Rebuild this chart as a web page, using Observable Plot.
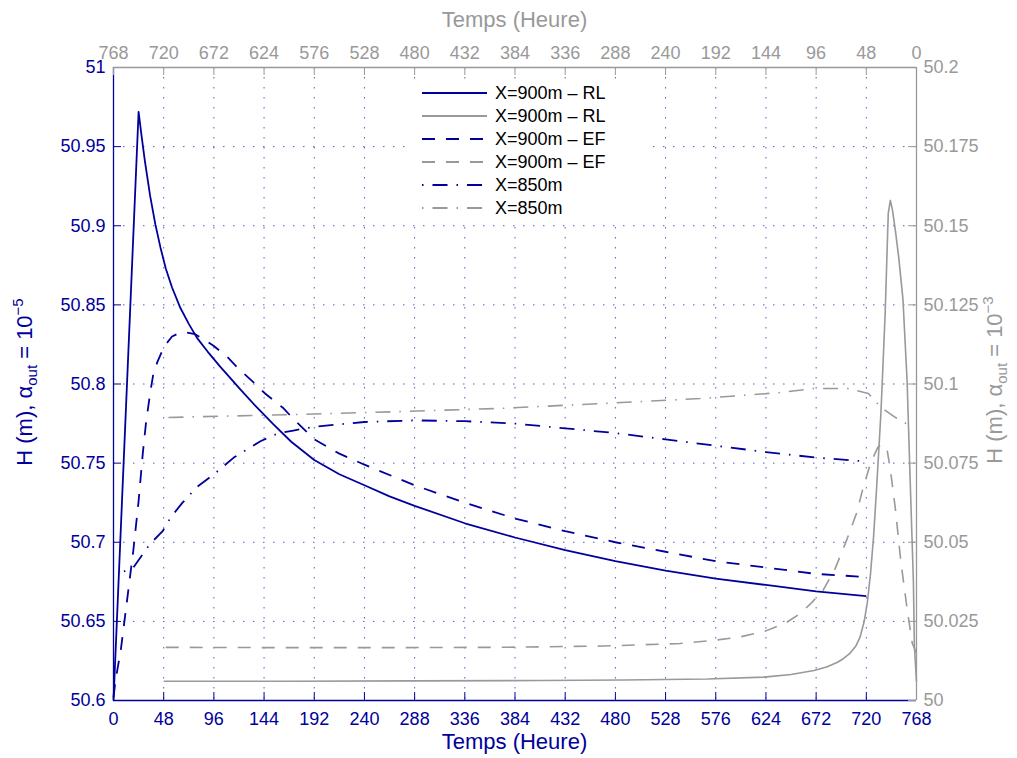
<!DOCTYPE html>
<html>
<head>
<meta charset="utf-8">
<script src="https://cdn.jsdelivr.net/npm/d3@7"></script>
<script src="https://cdn.jsdelivr.net/npm/@observablehq/plot@0.6"></script>
<style>
  body { margin: 0; background: #fff; }
  #chart { position: relative; width: 1017px; height: 758px; overflow: hidden; background: #fff;
           font-family: "Liberation Sans", Arial, Helvetica, sans-serif; }
  #chart svg { position: absolute; left: 0; top: 0; max-width: none; }
</style>
</head>
<body>
<div id="chart"></div>
<script>
// Hours on the bottom axis (blue runs) and on the reversed top axis (grey runs)
const hourTicks = [0, 48, 96, 144, 192, 240, 288, 336, 384, 432, 480, 528, 576, 624, 672, 720, 768];
// Head H (m): left axis for alpha_out = 1e-5, right axis for alpha_out = 1e-3
const headTicksLeft = [50.6, 50.65, 50.7, 50.75, 50.8, 50.85, 50.9, 50.95, 51];
const headTicksRight = [50, 50.025, 50.05, 50.075, 50.1, 50.125, 50.15, 50.175, 50.2];

// alpha_out = 1e-5 : [hour, head]
const blueRL = [[0,50.600],[24,50.972],[27,50.956],[30,50.941],[35,50.919],[40,50.901],[45,50.886],[50,50.873],
  [56,50.861],[64,50.848],[72,50.838],[80,50.829],[90,50.8205],[102,50.811],[112,50.8035],[120,50.7975],
  [136,50.786],[153,50.7745],[170,50.7635],[192,50.752],[216,50.743],[240,50.736],[264,50.729],[288,50.723],
  [336,50.712],[384,50.703],[432,50.695],[480,50.688],[528,50.682],[576,50.677],[624,50.673],[672,50.669],[720,50.666]];
const blueEF = [[0,50.602],[2,50.613],[7,50.632],[19,50.695],[24,50.726],[28,50.756],[31,50.775],[35,50.794],
  [38,50.806],[42,50.814],[46,50.820],[50,50.825],[56,50.830],[62,50.832],[70,50.8325],[78,50.8315],[87,50.828],
  [96,50.824],[109,50.817],[119,50.810],[134,50.801],[145,50.794],[162,50.785],[172,50.778],[192,50.765],
  [216,50.756],[240,50.749],[288,50.736],[336,50.725],[384,50.715],[432,50.707],[480,50.700],[528,50.694],
  [576,50.688],[624,50.684],[672,50.680],[720,50.678]];
const blue850 = [[10,50.6815],[19,50.684],[35,50.699],[47,50.707],[55,50.716],[66,50.725],[80,50.735],[90,50.740],
  [98,50.744],[115,50.7535],[126,50.758],[141,50.764],[157,50.7687],[172,50.7706],[192,50.773],[240,50.776],
  [288,50.777],[336,50.7765],[384,50.775],[432,50.772],[480,50.769],[528,50.765],[576,50.761],[624,50.757],
  [672,50.7535],[720,50.751]];

// alpha_out = 1e-3 : [hour on the top axis, head]
const greyRL = [[0,50.006],[2,50.017],[3,50.038],[6,50.069],[9,50.101],[13,50.127],[17,50.140],[20,50.148],
  [23,50.155],[25,50.158],[27,50.154],[30,50.122],[34,50.091],[38,50.068],[41,50.052],[44,50.040],[47,50.031],
  [50,50.025],[54,50.020],[58,50.0172],[64,50.0148],[70,50.0132],[76,50.0120],[86,50.0106],[98,50.0095],
  [120,50.0082],[146,50.0074],[200,50.0068],[280,50.0065],[360,50.0063],[480,50.0062],[600,50.0061],[720,50.0061]];
const greyEF = [[0,50.015],[4,50.018],[9,50.029],[15,50.044],[20,50.060],[25,50.073],[28,50.079],[32,50.081],
  [37,50.080],[44,50.075],[52,50.066],[57,50.0595],[67,50.0505],[78,50.0415],[89,50.035],[100,50.031],
  [111,50.0275],[125,50.0245],[144,50.022],[170,50.020],[194,50.019],[226,50.018],[300,50.0172],[400,50.0168],
  [500,50.0167],[600,50.0167],[720,50.0168]];
const grey850 = [[10,50.0875],[20,50.0894],[34,50.0926],[46,50.097],[66,50.0986],[98,50.0986],[130,50.0973],
  [207,50.0954],[302,50.0938],[398,50.0923],[493,50.0913],[589,50.0904],[720,50.0894]];

const legendLabels = ["X=900m – RL", "X=900m – RL", "X=900m – EF", "X=900m – EF", "X=850m", "X=850m"];

// ---- layout and styles ----
const W = 1017, H = 758;
const mTop = 67, mRight = 101, mBottom = 58, mLeft = 113;
const innerW = W - mLeft - mRight, innerH = H - mTop - mBottom;
const BLUE = "#00009c", GREY = "#999999", GRID = "#2f2fbf";
const FONT = "'Liberation Sans', Arial, Helvetica, sans-serif";
const SOLID = null, DASH = "13,11", DASHDOT = "1.5,9,15,9";
const TICK = 8;
const fmt = d => `${d}`;

const frame = {
  width: W, height: H,
  marginTop: mTop, marginRight: mRight, marginBottom: mBottom, marginLeft: mLeft,
  style: {background: "transparent", fontFamily: FONT, fontSize: "18px", overflow: "visible"}
};

const series = (data, stroke, dash, width) => Plot.line(data, {
  x: d => d[0], y: d => d[1], stroke, strokeWidth: width,
  strokeDasharray: dash, strokeLinecap: "butt", strokeLinejoin: "round"
});

// Bottom / left axes: blue runs
const base = Plot.plot({
  ...frame,
  x: {domain: [0, 768]},
  y: {domain: [50.6, 51]},
  marks: [
    Plot.ruleX(hourTicks.slice(1, -1), {x: d => d, stroke: GRID, strokeOpacity: 0.8, strokeDasharray: "1.5,8.5"}),
    Plot.ruleY(headTicksLeft.slice(1, -1), {y: d => d, stroke: GRID, strokeOpacity: 0.8, strokeDasharray: "1.5,8.5"}),
    Plot.tickX(hourTicks, {x: d => d, stroke: BLUE, insetTop: innerH - TICK}),
    Plot.tickY(headTicksLeft, {y: d => d, stroke: BLUE, insetRight: innerW - TICK}),
    Plot.axisX(hourTicks, {anchor: "bottom", tickSize: 0, tickPadding: 12, fill: BLUE, label: null, tickFormat: fmt}),
    Plot.axisY(headTicksLeft, {anchor: "left", tickSize: 0, tickPadding: 8, fill: BLUE, label: null, tickFormat: fmt}),
    series(blueRL, BLUE, SOLID, 1.8),
    series(blueEF, BLUE, DASH, 1.8),
    series(blue850, BLUE, DASHDOT, 1.8),
    Plot.ruleY([50.6], {stroke: BLUE, strokeWidth: 1.3}),
    Plot.ruleX([0], {stroke: BLUE, strokeWidth: 1.3})
  ]
});

// Top / right axes: grey runs, time running right to left
const over = Plot.plot({
  ...frame,
  x: {domain: [768, 0]},
  y: {domain: [50, 50.2]},
  marks: [
    Plot.tickX(hourTicks, {x: d => d, stroke: GREY, insetBottom: innerH - TICK}),
    Plot.tickY(headTicksRight, {y: d => d, stroke: GREY, insetLeft: innerW - TICK}),
    Plot.axisX(hourTicks, {anchor: "top", tickSize: 0, tickPadding: 9, fill: GREY, label: null, tickFormat: fmt}),
    Plot.axisY(headTicksRight, {anchor: "right", tickSize: 0, tickPadding: 7, fill: GREY, label: null, tickFormat: fmt}),
    series(greyRL, GREY, SOLID, 1.6),
    series(greyEF, GREY, DASH, 1.6),
    series(grey850, GREY, DASHDOT, 1.6),
    Plot.ruleY([50.2], {stroke: GREY, strokeWidth: 1.3}),
    Plot.ruleX([0], {stroke: GREY, strokeWidth: 1.3})
  ]
});

const chart = document.getElementById("chart");
chart.append(base, over);

// Axis titles
const svg = d3.select(over);
const cx = mLeft + innerW / 2;
svg.append("text").attr("x", cx).attr("y", 27).attr("text-anchor", "middle")
  .attr("fill", GREY).attr("font-size", 22).text("Temps (Heure)");
svg.append("text").attr("x", cx).attr("y", 749).attr("text-anchor", "middle")
  .attr("fill", BLUE).attr("font-size", 22).text("Temps (Heure)");

function headLabel(x, y, color, exponent) {
  const t = svg.append("text")
    .attr("transform", `translate(${x},${y}) rotate(-90)`)
    .attr("text-anchor", "middle").attr("fill", color).attr("font-size", 22);
  t.append("tspan").text("H (m), α");
  t.append("tspan").attr("dy", 5).attr("font-size", 15).text("out");
  t.append("tspan").attr("dy", -5).text(" = 10");
  t.append("tspan").attr("dy", -9).attr("font-size", 15).text(exponent);
}
headLabel(32, 382, BLUE, "−5");
headLabel(1002, 380, GREY, "−3");

// Legend
const legendStyles = [
  [BLUE, SOLID], [GREY, SOLID], [BLUE, DASH], [GREY, DASH], [BLUE, DASHDOT], [GREY, DASHDOT]
];
const leg = d3.select(chart).append("svg")
  .attr("width", 240).attr("height", 142)
  .style("left", "407px").style("top", "80px").style("background", "#fff");
legendLabels.forEach((label, i) => {
  const y = 13 + i * 23;
  const [color, dash] = legendStyles[i];
  leg.append("line").attr("x1", 15).attr("x2", 80).attr("y1", y).attr("y2", y)
    .attr("stroke", color).attr("stroke-width", 1.8).attr("stroke-dasharray", dash);
  leg.append("text").attr("x", 88).attr("y", y).attr("dy", "0.35em")
    .attr("font-family", FONT).attr("font-size", 18).attr("fill", "#000").text(label);
});
</script>
</body>
</html>
